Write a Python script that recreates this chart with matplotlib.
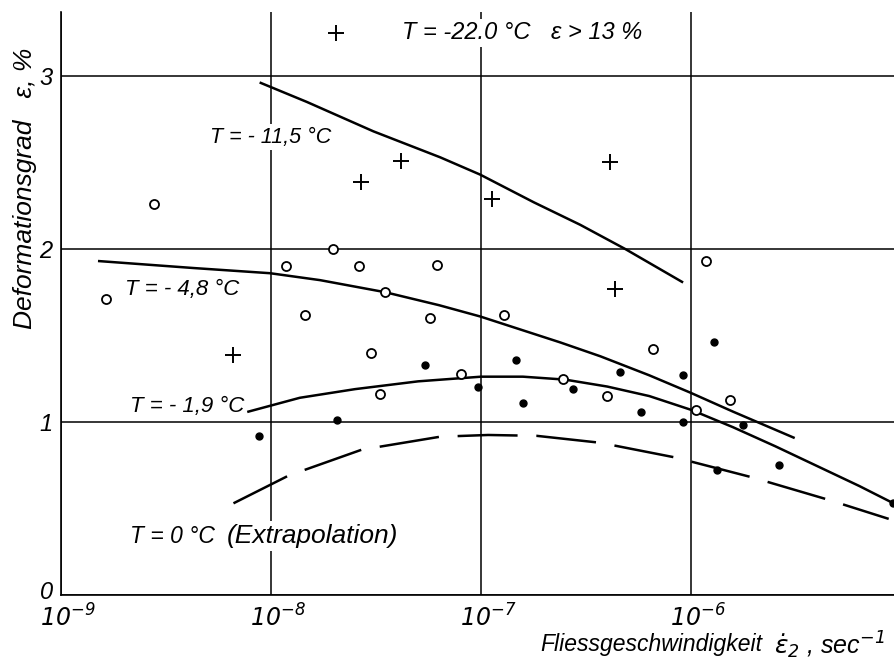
import numpy as np
import matplotlib.pyplot as plt
import matplotlib.transforms as mtransforms

# Kriechversuche an Eis: Deformationsgrad ueber Fliessgeschwindigkeit

plt.rcParams['font.family'] = ['Liberation Sans Narrow', 'Liberation Sans', 'DejaVu Sans']
plt.rcParams['font.style'] = 'italic'
plt.rcParams['mathtext.fontset'] = 'custom'
plt.rcParams['mathtext.rm'] = 'Liberation Sans Narrow:italic'
plt.rcParams['mathtext.it'] = 'Liberation Sans Narrow:italic'

# Messpunkte T = -11,5 C (Kreuze)
rate_115 = [2.04e-8, 4.15e-8, 2.67e-8, 1.12e-7, 4.11e-7, 4.32e-7, 6.62e-9]
eps_115 = [3.25, 2.51, 2.39, 2.29, 2.50, 1.77, 1.39]

# Messpunkte T = -4,8 C (offene Kreise)
rate_48 = [2.77e-9, 1.64e-9, 1.18e-8, 1.98e-8, 2.62e-8, 6.19e-8, 3.50e-8,
           1.45e-8, 5.68e-8, 1.29e-7, 2.99e-8, 8.05e-8, 3.30e-8, 2.45e-7,
           1.17e-6, 6.58e-7, 3.99e-7, 1.05e-6, 1.53e-6]
eps_48 = [2.26, 1.71, 1.90, 2.00, 1.90, 1.91, 1.75,
          1.62, 1.60, 1.62, 1.40, 1.28, 1.16, 1.25,
          1.93, 1.42, 1.15, 1.07, 1.13]

# Messpunkte T = -1,9 C (volle Punkte)
rate_19 = [8.73e-9, 2.07e-8, 5.40e-8, 9.68e-8, 1.47e-7, 1.58e-7, 2.74e-7,
           4.59e-7, 9.18e-7, 1.29e-6, 5.78e-7, 9.18e-7, 1.77e-6, 1.32e-6,
           2.63e-6, 9.18e-6]
eps_19 = [0.92, 1.01, 1.33, 1.20, 1.36, 1.11, 1.19,
          1.29, 1.27, 1.46, 1.06, 1.00, 0.98, 0.72,
          0.75, 0.53]

# Ausgleichskurven
curve_115_x = [8.93e-9, 1.48e-8, 3.07e-8, 6.38e-8, 9.89e-8, 1.78e-7,
               2.96e-7, 4.85e-7, 9.04e-7]
curve_115_y = [2.96, 2.85, 2.68, 2.53, 2.43, 2.27, 2.14, 2.00, 1.81]

curve_48_x = [1.52e-9, 4.27e-9, 9.89e-9, 1.71e-8, 3.50e-8, 6.31e-8, 9.89e-8,
              1.58e-7, 2.38e-7, 3.69e-7, 6.31e-7, 9.89e-7, 1.58e-6, 3.07e-6]
curve_48_y = [1.93, 1.89, 1.86, 1.82, 1.75, 1.675, 1.61,
              1.53, 1.46, 1.38, 1.27, 1.17, 1.06, 0.91]

curve_19_x = [7.80e-9, 1.37e-8, 2.51e-8, 5.01e-8, 1.0e-7, 1.58e-7, 2.51e-7,
              3.98e-7, 6.31e-7, 1.0e-6, 1.58e-6, 2.51e-6, 3.98e-6, 6.31e-6,
              9.18e-6]
curve_19_y = [1.06, 1.14, 1.19, 1.235, 1.262, 1.262, 1.245,
              1.205, 1.15, 1.07, 0.97, 0.86, 0.745, 0.63,
              0.53]

# Extrapolation T = 0 C
curve_0_x = [6.62e-9, 1.21e-8, 2.70e-8, 6.38e-8, 1.08e-7, 1.84e-7, 3.69e-7,
             8.39e-7, 1.95e-6, 4.51e-6, 8.71e-6]
curve_0_y = [0.53, 0.69, 0.84, 0.915, 0.925, 0.92, 0.88, 0.795, 0.68, 0.55, 0.44]

xticks = [1e-9, 1e-8, 1e-7, 1e-6]
xticklabels = [r'$10^{-9}$', r'$10^{-8}$', r'$10^{-7}$', r'$10^{-6}$']
yticks = [0, 1, 2, 3]

fig = plt.figure(figsize=(8.95, 6.62), dpi=100)
ax = fig.add_axes([0.0682, 0.1012, 0.9318, 0.8807])
ax.set_xscale('log')
ax.set_xlim(1e-9, 10 ** -5.03)
ax.set_ylim(0, 3.37)

for s in ['top', 'right']:
    ax.spines[s].set_visible(False)
for s in ['left', 'bottom']:
    ax.spines[s].set_linewidth(1.2)

ax.set_xticks(xticks)
ax.set_xticklabels(xticklabels, fontsize=17)
ax.xaxis.set_minor_locator(plt.NullLocator())
ax.set_yticks(yticks)
ax.set_yticklabels([str(v) for v in yticks], fontsize=17)
ax.tick_params(length=0, pad=6)
ax.grid(True, color='black', linewidth=1.1)

# Beschriftung der x-Achse etwas nach rechts, die Null etwas nach oben
shift_x = mtransforms.ScaledTranslation(0.07, -0.01, fig.dpi_scale_trans)
for tick in ax.xaxis.get_major_ticks():
    tick.label1.set_transform(tick.label1.get_transform() + shift_x)
shift_0 = mtransforms.ScaledTranslation(0, 0.05, fig.dpi_scale_trans)
lab0 = ax.yaxis.get_major_ticks()[0].label1
lab0.set_transform(lab0.get_transform() + shift_0)

lw = 1.8
ax.plot(curve_115_x, curve_115_y, color='black', lw=lw)
ax.plot(curve_48_x, curve_48_y, color='black', lw=lw)
ax.plot(curve_19_x, curve_19_y, color='black', lw=lw)
ax.plot(curve_0_x, curve_0_y, color='black', lw=lw, dashes=(24, 7.5))

ax.plot(rate_115, eps_115, ls='none', marker='+', ms=12, mew=1.4, color='black')
ax.plot(rate_48, eps_48, ls='none', marker='o', ms=6.5, mew=1.3,
        mfc='white', mec='black', zorder=4)
ax.plot(rate_19, eps_19, ls='none', marker='o', ms=5, color='black', zorder=4)

box = dict(fc='white', ec='none', pad=2)
txt = dict(va='center', ha='left')
ax.text(5.1e-9, 2.647, 'T = - 11,5 °C', fontsize=15.5, bbox=box, **txt)
ax.text(2.02e-9, 1.763, 'T = - 4,8 °C', fontsize=16, **txt)
ax.text(2.13e-9, 1.092, 'T = - 1,9 °C', fontsize=16, **txt)
ax.text(2.13e-9, 0.341, 'T = 0 °C', fontsize=16.5, bbox=box, **txt)
ax.text(6.17e-9, 0.341, '(Extrapolation)', fontsize=19, bbox=box, **txt)
ax.text(4.2e-8, 3.249, 'T = -22.0 °C', fontsize=17, bbox=box, **txt)
ax.text(2.15e-7, 3.249, 'ε > 13 %', fontsize=17, bbox=box, **txt)

fig.text(25 / 895, 1 - 188 / 662, 'Deformationsgrad   ε, %', rotation=90,
         fontsize=19, ha='center', va='center')
fig.text(540 / 895, 1 - 645 / 662, 'Fliessgeschwindigkeit',
         fontsize=16.5, ha='left', va='center')
fig.text(885 / 895, 1 - 645 / 662, r'$\dot{\varepsilon}_2$ , sec$^{-1}$',
         fontsize=18, ha='right', va='center')

fig.savefig('out.png', dpi=100)
